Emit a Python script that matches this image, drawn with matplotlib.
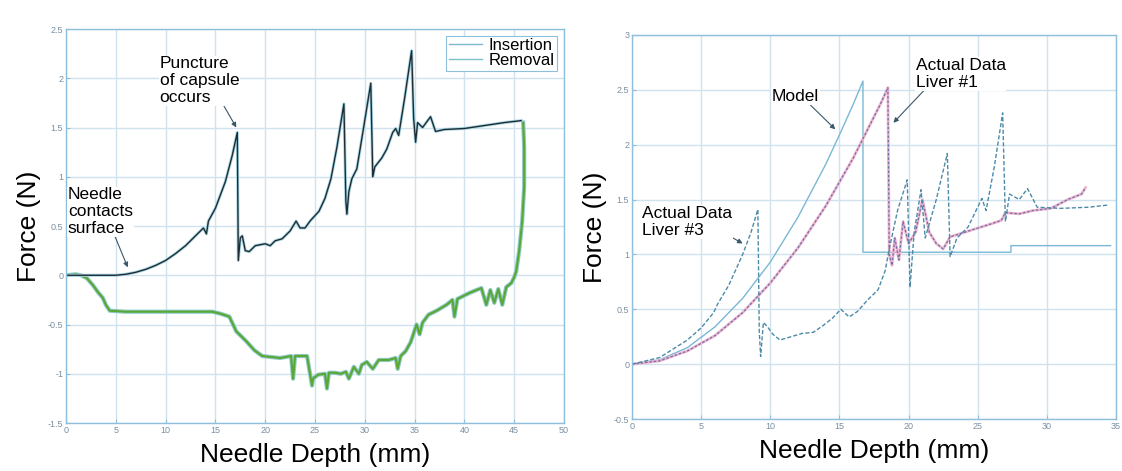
import matplotlib.pyplot as plt

plt.rcParams['font.family'] = ['Liberation Sans', 'DejaVu Sans']

# ---------- left panel: insertion / removal ----------
ins_x = [0, 2, 4, 5, 6, 7, 8, 9, 10, 11, 12, 13, 13.8, 14.1, 14.3, 15, 16, 16.7, 17.2,
         17.3, 17.5, 17.7, 18.0, 18.4, 19, 20, 20.5, 21, 21.7, 22.5, 23.1, 23.5, 24, 24.5,
         25.4, 26, 26.6, 27.2, 27.9, 28.1, 28.2, 28.4, 28.7, 29.2, 29.8, 30.2, 30.6, 30.8,
         31, 31.7, 32.2, 32.8, 33.1, 33.4, 34, 34.7, 34.9, 35.1, 35.3, 35.8, 36.6, 37.1,
         38, 40, 42, 44, 45.7]
ins_y = [0, 0, 0, 0, 0.01, 0.03, 0.06, 0.1, 0.15, 0.22, 0.3, 0.4, 0.48, 0.42, 0.55, 0.68,
         0.95, 1.22, 1.45, 0.15, 0.38, 0.4, 0.25, 0.24, 0.3, 0.32, 0.3, 0.35, 0.37, 0.45,
         0.55, 0.48, 0.48, 0.55, 0.65, 0.78, 0.98, 1.3, 1.74, 0.75, 0.62, 0.85, 0.98, 1.08,
         1.45, 1.7, 1.95, 1.0, 1.1, 1.19, 1.28, 1.45, 1.49, 1.42, 1.8, 2.28, 1.6, 1.35,
         1.55, 1.5, 1.61, 1.46, 1.48, 1.49, 1.52, 1.55, 1.57]

rem_x = [45.9, 46.0, 46.0, 45.8, 45.5, 45.2, 45.0, 44.7, 44.2, 43.8, 43.4, 43.0, 42.6,
         42.2, 41.7, 40.5, 39.3, 39.0, 38.8, 38.2, 37.2, 36.4, 35.8, 35.5, 35.2, 35.0,
         34.6, 34.1, 33.6, 33.3, 33.1, 32.4, 31.4, 30.8, 30.2, 29.7, 29.4, 28.9, 28.4,
         28.1, 27.6, 27.0, 26.4, 26.2, 26.0, 25.3, 24.8, 24.7, 24.5, 24.2, 23.5, 23.0,
         22.8, 22.6, 21.5, 20.6, 19.7, 18.9, 18.1, 17.6, 17.1, 16.4, 15.5, 14.7, 10, 6,
         4.4, 4.0, 3.7, 3.2, 2.7, 2.1, 1.5, 1, 0]
rem_y = [1.55, 1.3, 0.9, 0.55, 0.25, 0.04, -0.02, -0.08, -0.12, -0.3, -0.14, -0.28, -0.15,
         -0.3, -0.13, -0.18, -0.24, -0.42, -0.25, -0.3, -0.36, -0.4, -0.48, -0.6, -0.5,
         -0.56, -0.68, -0.77, -0.82, -0.95, -0.84, -0.86, -0.86, -0.95, -0.88, -0.91,
         -1.0, -0.93, -1.05, -0.98, -1.0, -0.99, -0.99, -1.15, -1.0, -1.01, -1.05, -1.12,
         -1.0, -0.82, -0.82, -0.82, -1.05, -0.82, -0.84, -0.83, -0.82, -0.76, -0.67,
         -0.62, -0.57, -0.42, -0.39, -0.37, -0.37, -0.37, -0.36, -0.3, -0.23, -0.17,
         -0.1, -0.03, 0.0, 0.01, 0.0]

# ---------- right panel: model vs data ----------
model_x = [0, 2, 4, 6, 8, 10, 12, 14, 15, 16, 16.7, 16.7, 27.4, 27.4, 34.6]
model_y = [0, 0.04, 0.15, 0.34, 0.6, 0.93, 1.34, 1.82, 2.09, 2.37, 2.58, 1.02, 1.02, 1.08, 1.08]

liv3_x = [0, 2, 4, 5, 5.9, 6.2, 7, 8, 8.6, 9.1, 9.2, 9.3, 9.5, 9.8, 10.2, 10.7, 11.5, 12.3,
          13.1, 13.8, 14.5, 15.1, 15.7, 16.3, 17.0, 17.8, 18.3, 18.6, 19.2, 19.9, 20.1,
          20.4, 20.9, 21.2, 22.0, 22.8, 23.0, 23.5, 24.3, 25.3, 25.6, 26.2, 26.8, 27.0,
          27.3, 28.0, 28.6, 29.3, 31, 33, 34.4]
liv3_y = [0, 0.06, 0.22, 0.33, 0.47, 0.55, 0.72, 1.0, 1.2, 1.41, 0.3, 0.07, 0.38, 0.34,
          0.27, 0.22, 0.25, 0.28, 0.29, 0.35, 0.42, 0.5, 0.43, 0.48, 0.58, 0.68, 0.85, 1.05,
          1.4, 1.68, 0.7, 1.2, 1.59, 1.15, 1.5, 1.92, 0.98, 1.15, 1.25, 1.51, 1.4, 1.8, 2.29,
          1.3, 1.55, 1.5, 1.6, 1.43, 1.42, 1.43, 1.45]

liv1_x = [0, 2, 4, 6, 8, 10, 12, 14, 16, 17, 18, 18.5, 18.6, 18.8, 19.0, 19.3, 19.6, 20.0,
          20.5, 21, 21.5, 22, 22.5, 23, 24, 25, 26, 26.7, 27, 28, 29, 30.3, 31.5, 32.5, 32.8]
liv1_y = [0, 0.03, 0.12, 0.26, 0.47, 0.74, 1.06, 1.44, 1.88, 2.13, 2.38, 2.52, 1.0, 0.9,
          1.15, 0.95, 1.3, 1.1, 1.2, 1.5, 1.2, 1.1, 1.05, 1.16, 1.2, 1.24, 1.28, 1.31, 1.38,
          1.37, 1.4, 1.42, 1.5, 1.55, 1.61]

grid_c = '#cfe2ee'
spine_c = '#8ebfdc'
tick_c = '#7a8fa0'

fig = plt.figure(figsize=(11.22, 4.71), dpi=100)
ax1 = fig.add_axes([0.0588, 0.1019, 0.4439, 0.8365])
ax2 = fig.add_axes([0.5633, 0.1104, 0.4314, 0.8153])


def style(ax, xticks, yticks, ylabs):
    ax.set_xticks(xticks)
    ax.set_xticklabels([str(t) for t in xticks])
    ax.set_yticks(yticks)
    ax.set_yticklabels(ylabs)
    ax.grid(True, color=grid_c, lw=1.0)
    ax.set_axisbelow(True)
    for s in ax.spines.values():
        s.set_color(spine_c)
        s.set_linewidth(1.0)
    ax.tick_params(direction='in', length=3, color=spine_c, labelsize=6.5,
                   labelcolor=tick_c, pad=2)
    ax.set_xlabel('Needle Depth (mm)', fontsize=19, labelpad=6)
    ax.set_ylabel('Force (N)', fontsize=19, labelpad=5)


# left
ax1.plot(rem_x, rem_y, color='#8cc8c8', lw=3.0, solid_joinstyle='round')
ax1.plot(rem_x, rem_y, color='#5aa832', lw=1.5)
ax1.plot(ins_x, ins_y, color='#a8d6e4', lw=2.2)
ins_line, = ax1.plot(ins_x, ins_y, color='#1e2c34', lw=1.0)
rem_line, = ax1.plot([], [], color='#7cc0c8', lw=1.0)
ins_handle, = ax1.plot([], [], color='#7cb8d0', lw=1.0)
ax1.set_xlim(0, 50)
ax1.set_ylim(-1.5, 2.5)
style(ax1, list(range(0, 51, 5)),
      [-1.5, -1, -0.5, 0, 0.5, 1, 1.5, 2, 2.5],
      ['-1.5', '-1', '-0.5', '0', '0.5', '1', '1.5', '2', '2.5'])

leg = ax1.legend([ins_handle, rem_line], ['Insertion', 'Removal'], loc='upper right',
                 fontsize=12, handlelength=2.0, borderaxespad=0.4, borderpad=0.15,
                 labelspacing=0.0, handletextpad=0.4, fancybox=False, framealpha=1)
leg.get_frame().set_edgecolor(spine_c)
leg.get_frame().set_linewidth(0.8)

arrow_kw = dict(arrowstyle='-|>', color='#3a5868', lw=0.8, mutation_scale=7)
ax1.annotate('Puncture\nof capsule\noccurs', xy=(17.1, 1.5), xytext=(9.4, 1.73),
             fontsize=12.5, ha='left', va='bottom', linespacing=1.15,
             bbox=dict(facecolor='white', edgecolor='none', pad=0.5),
             arrowprops=dict(**arrow_kw, shrinkA=0, shrinkB=0,
                             relpos=(0.8, 0.0)))
ax1.annotate('Needle\ncontacts\nsurface', xy=(6.2, 0.08), xytext=(0.2, 0.4),
             fontsize=12.5, ha='left', va='bottom', linespacing=1.15,
             bbox=dict(facecolor='white', edgecolor='none', pad=0.5),
             arrowprops=dict(**arrow_kw, shrinkA=0, shrinkB=0,
                             relpos=(0.72, 0.0)))

# right
ax2.plot(model_x, model_y, color='#7ab8d4', lw=1.0)
ax2.plot(liv1_x, liv1_y, color='#f0b4cf', lw=2.0)
ax2.plot(liv1_x, liv1_y, color='#7070a8', lw=0.9, ls=(0, (2, 1.5)))
ax2.plot(liv3_x, liv3_y, color='#4d8aa8', lw=1.0, ls=(0, (3, 1.5)))
ax2.set_xlim(0, 35)
ax2.set_ylim(-0.5, 3)
style(ax2, list(range(0, 36, 5)),
      [-0.5, 0, 0.5, 1, 1.5, 2, 2.5, 3],
      ['-0.5', '0', '0.5', '1', '1.5', '2', '2.5', '3'])

ax2.annotate('Model', xy=(14.7, 2.14), xytext=(10.1, 2.37),
             fontsize=12.5, ha='left', va='bottom',
             bbox=dict(facecolor='white', edgecolor='none', pad=0.5),
             arrowprops=dict(**arrow_kw, shrinkA=0, shrinkB=0, relpos=(0.8, 0.0)))
ax2.annotate('Actual Data\nLiver #1', xy=(18.9, 2.2), xytext=(20.5, 2.5),
             fontsize=12.5, ha='left', va='bottom', linespacing=1.15,
             bbox=dict(facecolor='white', edgecolor='none', pad=0.5),
             arrowprops=dict(**arrow_kw, shrinkA=0, shrinkB=0, relpos=(0.1, 0.0)))
ax2.annotate('Actual Data\nLiver #3', xy=(8.0, 1.1), xytext=(0.7, 1.15),
             fontsize=12.5, ha='left', va='bottom', linespacing=1.15,
             bbox=dict(facecolor='white', edgecolor='none', pad=0.5),
             arrowprops=dict(**arrow_kw, shrinkA=0, shrinkB=0, relpos=(0.95, 0.1)))

fig.savefig('out.png', dpi=100, facecolor='white')
